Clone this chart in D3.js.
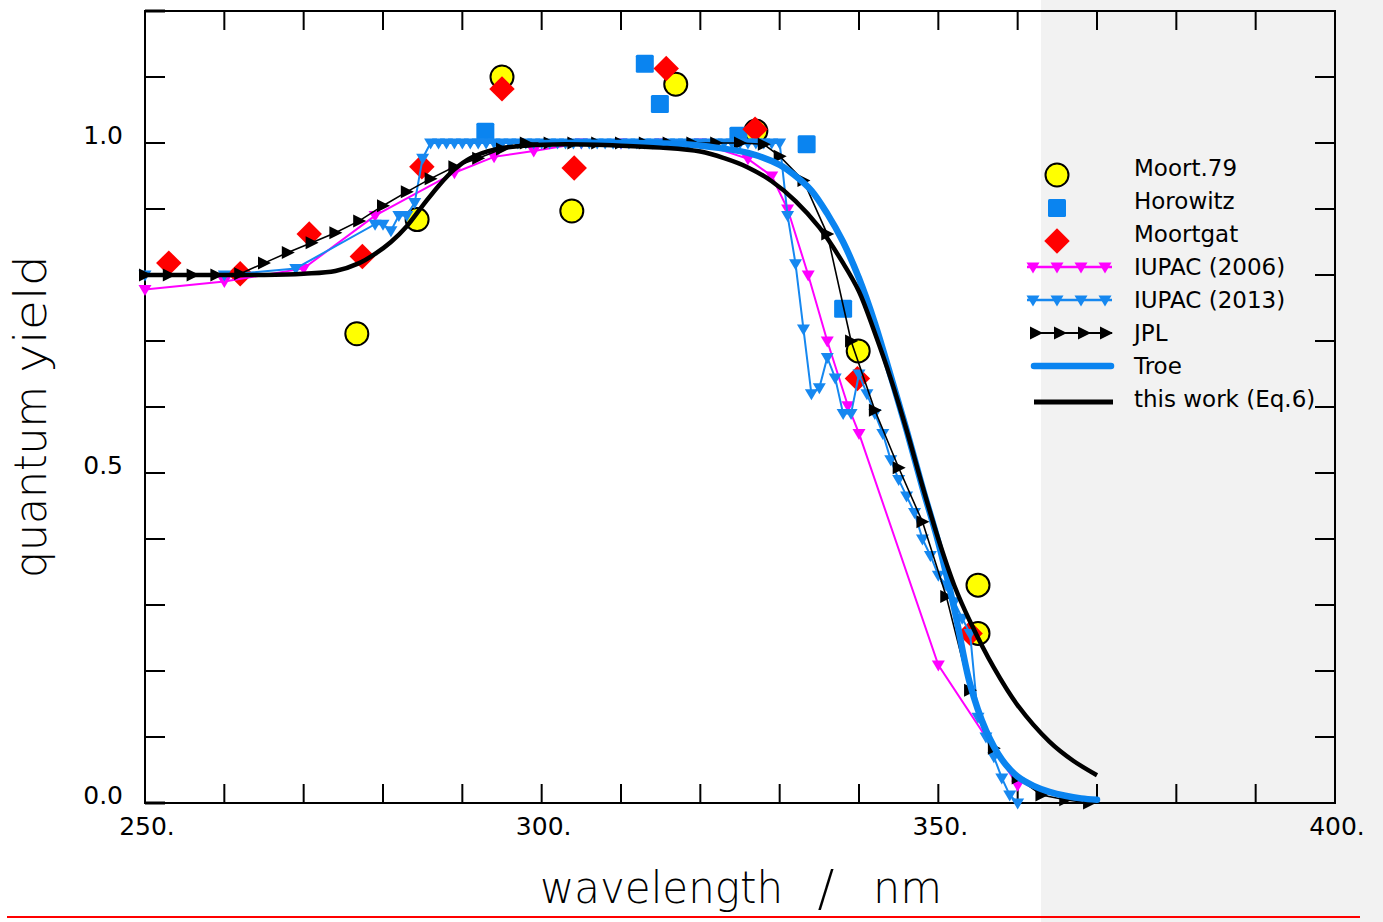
<!DOCTYPE html>
<html>
<head>
<meta charset="utf-8">
<script src="https://cdn.jsdelivr.net/npm/d3@7"></script>
<style>
  body { margin: 0; background: #fff; }
  svg { display: block; }
  text { font-family: "DejaVu Sans", sans-serif; fill: #000; }
</style>
</head>
<body>
<svg id="chart" width="1383" height="922"></svg>
<script>
// ---- data ----
var xTicks = [260, 270, 280, 290, 300, 310, 320, 330, 340, 350, 360, 370, 380, 390];
var xLabels = [250, 300, 350, 400];
var yTicks = [0.1, 0.2, 0.3, 0.4, 0.5, 0.6, 0.7, 0.8, 0.9, 1.0, 1.1];
var yLabels = [0.0, 0.5, 1.0];

var moort79 = [[276.7, 0.711], [284.3, 0.884], [295.0, 1.100], [303.8, 0.897], [316.9, 1.089],
               [327.0, 1.018], [339.9, 0.685], [355.0, 0.330], [355.0, 0.257]];

var horowitz = [[292.9, 1.017], [313.0, 1.120], [314.9, 1.059], [324.8, 1.011], [333.4, 0.998], [338.0, 0.749]];

var moortgat = [[253.0, 0.818], [262.0, 0.802], [270.7, 0.862], [277.4, 0.828], [284.9, 0.964], [295.0, 1.082],
                [304.1, 0.962], [315.7, 1.113], [326.9, 1.021], [339.8, 0.643], [354.0, 0.257]];

var iupac2006 = [[250, 0.778], [260, 0.790], [270, 0.810], [279, 0.890], [289, 0.955], [294, 0.979], [299, 0.988],
                 [305, 1.0], [310, 1.0], [315, 1.0], [320, 1.0], [326, 0.976], [329, 0.950], [331, 0.900],
                 [333.6, 0.800], [336, 0.700], [338.6, 0.602], [340, 0.560], [350, 0.209], [360, 0.027]];

var iupac2013 = [[250, 0.80], [260, 0.80], [269, 0.81], [279, 0.877], [280, 0.877], [281, 0.867], [282, 0.89],
  [283, 0.89], [284, 0.91], [285, 0.977], [286, 1.0], [287, 1.0], [288, 1.0], [289, 1.0], [290, 1.0], [291, 1.0],
  [292, 1.0], [293, 1.0], [294, 1.0], [295, 1.0], [296, 1.0], [297, 1.0], [298, 1.0], [299, 1.0], [300, 1.0],
  [301, 1.0], [302, 1.0], [303, 1.0], [304, 1.0], [305, 1.0], [306, 1.0], [307, 1.0], [308, 1.0], [309, 1.0],
  [310, 1.0], [311, 1.0], [312, 1.0], [313, 1.0], [314, 1.0], [315, 1.0], [316, 1.0], [317, 1.0], [318, 1.0],
  [319, 1.0], [320, 1.0], [321, 1.0], [322, 1.0], [323, 1.0], [324, 1.0], [325, 1.0], [326, 1.0], [327, 1.0],
  [328, 1.0], [329, 1.0], [330, 1.0], [331, 0.89], [332, 0.817], [333, 0.718], [334, 0.62], [335, 0.629],
  [336, 0.675], [337, 0.644], [338, 0.59], [339, 0.59], [340, 0.65], [341, 0.62], [342, 0.59], [343, 0.56],
  [344, 0.52], [345, 0.49], [346, 0.465], [347, 0.44], [348, 0.40], [349, 0.375], [350, 0.345], [351, 0.33],
  [352, 0.305], [353, 0.28], [354, 0.257], [355, 0.13], [356, 0.10], [357, 0.07], [358, 0.038], [359, 0.012],
  [360, 0.0]];

var jpl = [[250, 0.80], [253, 0.80], [256, 0.80], [259, 0.80], [262, 0.802], [265, 0.818], [268, 0.834],
  [271, 0.849], [274, 0.864], [277, 0.882], [280, 0.905], [283, 0.926], [286, 0.946], [289, 0.964],
  [292, 0.977], [295, 0.991], [298, 1.0], [301, 1.0], [304, 1.0], [307, 1.0], [310, 1.0], [313, 1.0],
  [316, 1.0], [319, 1.0], [322, 1.0], [325, 1.0], [328, 0.998], [330, 0.98], [333, 0.943], [336, 0.862],
  [339, 0.70], [342, 0.595], [345, 0.508], [348, 0.426], [351, 0.313], [354, 0.171], [357, 0.083],
  [360, 0.038], [363, 0.012], [366, 0.005], [369, 0.0]];

var troe = [[300, 1.0], [310, 1.0], [318, 0.998], [322, 0.993], [326, 0.985], [330, 0.967], [332, 0.950],
  [334, 0.928], [336, 0.893], [338, 0.850], [340, 0.795], [342, 0.727], [344, 0.647], [346, 0.565],
  [348, 0.478], [350, 0.395], [352, 0.295], [354, 0.180], [356, 0.110], [358, 0.066], [360, 0.040],
  [362, 0.026], [364, 0.017], [366, 0.011], [368, 0.007], [370, 0.005]];

var thisWork = [[250, 0.800], [260, 0.800], [265, 0.800], [270, 0.802], [274, 0.806], [277, 0.818],
  [279, 0.832], [281, 0.850], [283, 0.874], [285, 0.905], [287, 0.935], [289, 0.960], [291, 0.977],
  [294, 0.990], [298, 0.996], [303, 0.998], [310, 0.996], [315, 0.993], [320, 0.987], [323, 0.977],
  [326, 0.963], [329, 0.942], [332, 0.912], [335, 0.872], [338, 0.818], [340, 0.775], [342, 0.712],
  [344, 0.643], [346, 0.565], [348, 0.480], [350, 0.400], [352, 0.330], [354, 0.275], [357, 0.205],
  [360, 0.148], [364, 0.093], [367, 0.064], [370, 0.042]];

var legendNames = ["Moort.79", "Horowitz", "Moortgat", "IUPAC (2006)", "IUPAC (2013)", "JPL", "Troe", "this work (Eq.6)"];

// ---- layout ----
var svg = d3.select("#chart");
var blue = "#0a84f0";

var x = d3.scaleLinear().domain([250, 400]).range([145, 1335]);
var y = d3.scaleLinear().domain([0, 1.2]).range([803, 11]);

// grey panel on the right and red rule at the bottom
svg.append("rect").attr("x", 1041).attr("y", 0).attr("width", 342).attr("height", 922).attr("fill", "#f2f2f2");
svg.append("line").attr("x1", 7).attr("x2", 1360).attr("y1", 917).attr("y2", 917)
   .attr("stroke", "#ff0000").attr("stroke-width", 2);

// ---- frame + ticks ----
var frame = svg.append("g").attr("stroke", "#000").attr("stroke-width", 2);
frame.append("rect").attr("x", x(250)).attr("y", y(1.2))
     .attr("width", x(400) - x(250)).attr("height", y(0) - y(1.2)).attr("fill", "none");

frame.selectAll(".xb").data(xTicks).enter().append("line")
     .attr("x1", x).attr("x2", x).attr("y1", y(0)).attr("y2", y(0) - 19);
frame.selectAll(".xt").data(xTicks).enter().append("line")
     .attr("x1", x).attr("x2", x).attr("y1", y(1.2)).attr("y2", y(1.2) + 19);
frame.selectAll(".yl").data(yTicks).enter().append("line")
     .attr("x1", x(250)).attr("x2", x(250) + 20).attr("y1", y).attr("y2", y);
frame.selectAll(".yr").data(yTicks).enter().append("line")
     .attr("x1", x(400)).attr("x2", x(400) - 20).attr("y1", y).attr("y2", y);
frame.append("line").attr("x1", x(250)).attr("x2", x(250) + 20).attr("y1", y(0)).attr("y2", y(0)).attr("stroke-width", 3);
frame.append("line").attr("x1", x(250)).attr("x2", x(250) + 20).attr("y1", y(1.2)).attr("y2", y(1.2)).attr("stroke-width", 3);

svg.selectAll(".xlab").data(xLabels).enter().append("text")
   .attr("x", function(d) { return x(d) + 2; }).attr("y", 835)
   .attr("text-anchor", "middle").attr("font-size", 25)
   .text(function(d) { return d + "."; });
svg.selectAll(".ylab").data(yLabels).enter().append("text")
   .attr("x", 123).attr("y", function(d) { return y(d) + 1; })
   .attr("text-anchor", "end").attr("font-size", 25)
   .text(function(d) { return d.toFixed(1); });

// axis titles, each word placed as in the figure
var xTitle = [["wavelength", 540, 243], ["nm", 873, 69]];
svg.selectAll(".xtt").data(xTitle).enter().append("text")
   .attr("x", function(d) { return d[1]; }).attr("y", 903)
   .attr("font-size", 44).attr("font-weight", 200)
   .attr("textLength", function(d) { return d[2]; }).attr("lengthAdjust", "spacingAndGlyphs")
   .text(function(d) { return d[0]; });
svg.append("text").attr("x", 826).attr("y", 905).attr("text-anchor", "middle")
   .attr("font-size", 50).attr("font-weight", 200).text("/");
var yTitle = [["quantum", 578, 192], ["yield", 373, 118]];
svg.selectAll(".yt").data(yTitle).enter().append("text")
   .attr("transform", function(d) { return "translate(46," + d[1] + ") rotate(-90)"; })
   .attr("font-size", 44).attr("font-weight", 200)
   .attr("textLength", function(d) { return d[2]; }).attr("lengthAdjust", "spacingAndGlyphs")
   .text(function(d) { return d[0]; });

// ---- marker shapes ----
var triDown = "M-6.5,-4.5L6.5,-4.5L0,6.5Z";
var triRight = "M-6,-6.5L7,0L-6,6.5Z";

function px(d) { return x(d[0]); }
function py(d) { return y(d[1]); }

var line = d3.line().x(px).y(py);
var smooth = d3.line().x(px).y(py).curve(d3.curveCatmullRom.alpha(0.5));

var plot = svg.append("g");

// Moort.79 circles
plot.selectAll(".m79").data(moort79).enter().append("circle")
    .attr("cx", px).attr("cy", py).attr("r", 11.5)
    .attr("fill", "#ffff00").attr("stroke", "#000").attr("stroke-width", 2);

// Horowitz squares
plot.selectAll(".hor").data(horowitz).enter().append("rect")
    .attr("x", function(d) { return px(d) - 9; }).attr("y", function(d) { return py(d) - 9; })
    .attr("width", 18).attr("height", 18).attr("rx", 1.5).attr("fill", blue);

// Moortgat diamonds
plot.selectAll(".mgt").data(moortgat).enter().append("rect")
    .attr("x", -9).attr("y", -9).attr("width", 18).attr("height", 18)
    .attr("transform", function(d) { return "translate(" + px(d) + "," + py(d) + ") rotate(45)"; })
    .attr("fill", "#ff0000");

// IUPAC (2006)
plot.append("path").datum(iupac2006).attr("d", line)
    .attr("fill", "none").attr("stroke", "#ff00ff").attr("stroke-width", 2);
plot.selectAll(".i06").data(iupac2006).enter().append("path")
    .attr("d", triDown).attr("fill", "#ff00ff")
    .attr("transform", function(d) { return "translate(" + px(d) + "," + py(d) + ")"; });

// IUPAC (2013)
plot.append("path").datum(iupac2013).attr("d", line)
    .attr("fill", "none").attr("stroke", "#1688f0").attr("stroke-width", 2);
plot.selectAll(".i13").data(iupac2013).enter().append("path")
    .attr("d", triDown).attr("fill", "#1688f0")
    .attr("transform", function(d) { return "translate(" + px(d) + "," + py(d) + ")"; });

// JPL
plot.append("path").datum(jpl).attr("d", line)
    .attr("fill", "none").attr("stroke", "#000").attr("stroke-width", 1.6);
plot.selectAll(".jpl").data(jpl).enter().append("path")
    .attr("d", triRight).attr("fill", "#000")
    .attr("transform", function(d) { return "translate(" + px(d) + "," + py(d) + ")"; });

// Troe
plot.append("path").datum(troe).attr("d", smooth)
    .attr("fill", "none").attr("stroke", blue).attr("stroke-width", 6.5).attr("stroke-linecap", "round");

// this work (Eq.6)
plot.append("path").datum(thisWork).attr("d", smooth)
    .attr("fill", "none").attr("stroke", "#000").attr("stroke-width", 4.5);

// ---- legend ----
var lg = svg.append("g");
var rowY = function(i) { return 175 + i * 33; };
lg.selectAll("text").data(legendNames).enter().append("text")
  .attr("x", 1134).attr("y", function(d, i) { return rowY(i) + 1; })
  .attr("font-size", 23).text(function(d) { return d; });

lg.append("circle").attr("cx", 1057).attr("cy", rowY(0)).attr("r", 11.5)
  .attr("fill", "#ffff00").attr("stroke", "#000").attr("stroke-width", 2);
lg.append("rect").attr("x", 1048).attr("y", rowY(1) - 9).attr("width", 18).attr("height", 18)
  .attr("rx", 1.5).attr("fill", blue);
lg.append("rect").attr("x", -9).attr("y", -9).attr("width", 18).attr("height", 18)
  .attr("transform", "translate(1057," + rowY(2) + ") rotate(45)").attr("fill", "#ff0000");

var legendMarks = [1033, 1057, 1081, 1105];
[["#ff00ff", 3], ["#1688f0", 4]].forEach(function(s) {
  var yy = rowY(s[1]) - 7;
  lg.append("line").attr("x1", 1027).attr("x2", 1112).attr("y1", yy).attr("y2", yy)
    .attr("stroke", s[0]).attr("stroke-width", 2.5);
  lg.selectAll(".lm" + s[1]).data(legendMarks).enter().append("path")
    .attr("d", triDown).attr("fill", s[0])
    .attr("transform", function(d) { return "translate(" + d + "," + yy + ")"; });
});
var jy = rowY(5) - 7;
lg.append("line").attr("x1", 1030).attr("x2", 1112).attr("y1", jy).attr("y2", jy)
  .attr("stroke", "#000").attr("stroke-width", 2);
lg.selectAll(".lj").data([1036, 1060, 1084, 1106]).enter().append("path")
  .attr("d", triRight).attr("fill", "#000")
  .attr("transform", function(d) { return "translate(" + d + "," + jy + ")"; });
lg.append("line").attr("x1", 1034).attr("x2", 1111).attr("y1", rowY(6) - 7).attr("y2", rowY(6) - 7)
  .attr("stroke", blue).attr("stroke-width", 6.5).attr("stroke-linecap", "round");
lg.append("line").attr("x1", 1034).attr("x2", 1113).attr("y1", rowY(7) - 4).attr("y2", rowY(7) - 4)
  .attr("stroke", "#000").attr("stroke-width", 5);
</script>
</body>
</html>
